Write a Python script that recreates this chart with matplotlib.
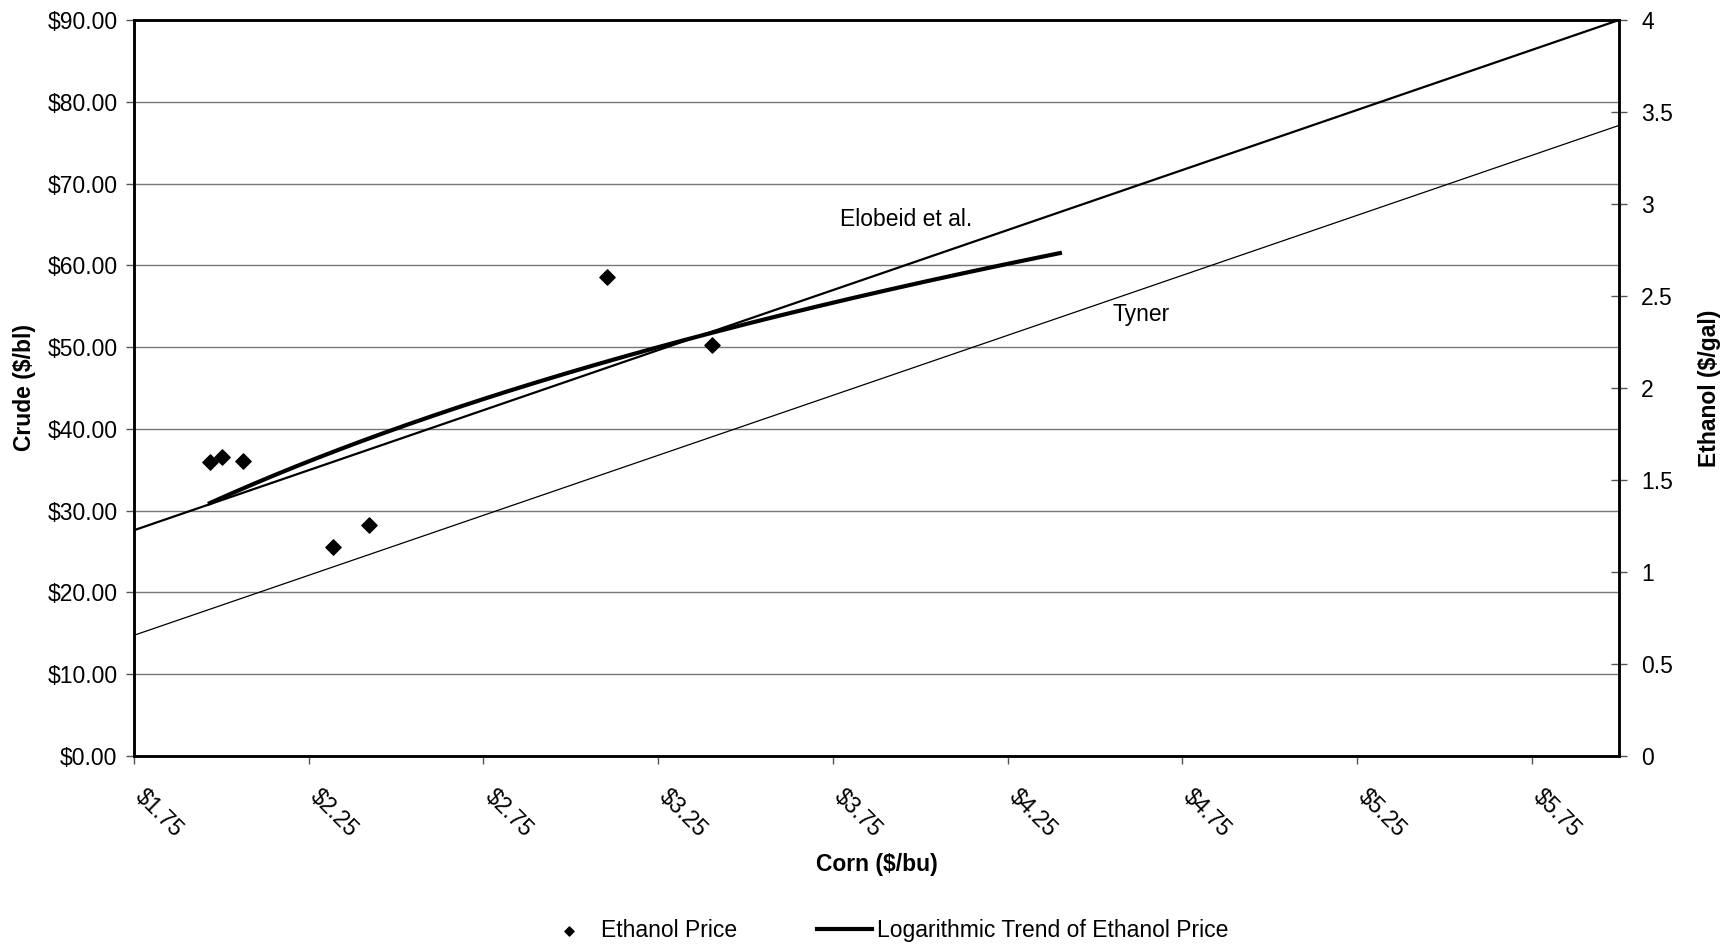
import matplotlib.pyplot as plt
import matplotlib.transforms as mtransforms
import numpy as np

plt.rcParams['font.family'] = ['Liberation Sans', 'DejaVu Sans']

# ethanol price observations: corn ($/bu) vs ethanol ($/gal)
corn = [1.967, 2.001, 2.061, 2.318, 2.422, 3.104, 3.405]
ethanol = [1.596, 1.627, 1.604, 1.133, 1.258, 2.604, 2.231]
trend_end = 4.40

# break-even lines (ethanol $/gal) at the two ends of the corn axis
line_x = [1.75, 6.0]
elobeid_y = [1.227, 4.0]
tyner_y = [0.656, 3.427]

xticks = [1.75, 2.25, 2.75, 3.25, 3.75, 4.25, 4.75, 5.25, 5.75]
crude_ticks = np.arange(0, 91, 10)
eth_ticks = [0, 0.5, 1, 1.5, 2, 2.5, 3, 3.5, 4]

FS = 16.5

fig = plt.figure(figsize=(17.21, 9.44), dpi=100)
ax = fig.add_axes([0.0779, 0.1992, 0.8628, 0.7796])
ax2 = ax.twinx()

# left axis: crude
ax.set_xlim(1.75, 6.0)
ax.set_ylim(0, 90)
ax.set_yticks(crude_ticks)
ax.set_yticklabels(['$%.2f' % v for v in crude_ticks])
ax.yaxis.grid(True, color='#777777', linewidth=1.0)
ax.set_axisbelow(True)
ax.set_xticks(xticks)
ax.set_xticklabels(['$%.2f' % v for v in xticks], rotation=-45,
                   ha='left', va='top', rotation_mode='anchor')
ax.tick_params(axis='both', labelsize=FS, direction='out', length=6,
               width=1, color='#555555')
ax.tick_params(axis='y', pad=6)
ax.tick_params(axis='x', pad=15)
shift = mtransforms.ScaledTranslation(0.13, 0, fig.dpi_scale_trans)
for lbl in ax.get_xticklabels():
    lbl.set_transform(lbl.get_transform() + shift)
ax.set_ylabel('Crude ($/bl)', fontsize=FS, fontweight='bold', labelpad=8)
ax.set_xlabel('Corn ($/bu)', fontsize=FS, fontweight='bold', labelpad=8)

# right axis: ethanol
ax2.set_ylim(0, 4)
ax2.set_yticks(eth_ticks)
ax2.set_yticklabels([('%g' % v) for v in eth_ticks])
ax2.tick_params(axis='y', labelsize=FS, direction='inout', length=12,
                width=1, color='#555555', pad=10)
ax2.set_ylabel('Ethanol ($/gal)', fontsize=FS, fontweight='bold', labelpad=18)

for a in (ax, ax2):
    for s in ('left', 'right', 'bottom', 'top'):
        a.spines[s].set_linewidth(1.8)
        a.spines[s].set_color('black')

ax2.plot(line_x, elobeid_y, color='black', linewidth=1.6)
ax2.plot(line_x, tyner_y, color='black', linewidth=0.9)

sc = ax2.scatter(corn, ethanol, marker='D', s=60, color='black',
                 label='Ethanol Price', zorder=5)

# logarithmic trend of the observations
b, a0 = np.polyfit(np.log(corn), ethanol, 1)
tx = np.linspace(min(corn), trend_end, 200)
tl, = ax2.plot(tx, a0 + b * np.log(tx), color='black', linewidth=3,
               label='Logarithmic Trend of Ethanol Price')

ax2.text(3.961, 2.915, 'Elobeid et al.', fontsize=FS, ha='center', va='center')
ax2.text(4.633, 2.402, 'Tyner', fontsize=FS, ha='center', va='center')

fig.legend(handles=[sc, tl], loc='center', bbox_to_anchor=(0.514, 0.0138),
           ncol=2, frameon=False, fontsize=FS, columnspacing=3.5,
           handlelength=2.4, handletextpad=0.2, markerscale=0.6)

fig.savefig('out.png', dpi=100)
